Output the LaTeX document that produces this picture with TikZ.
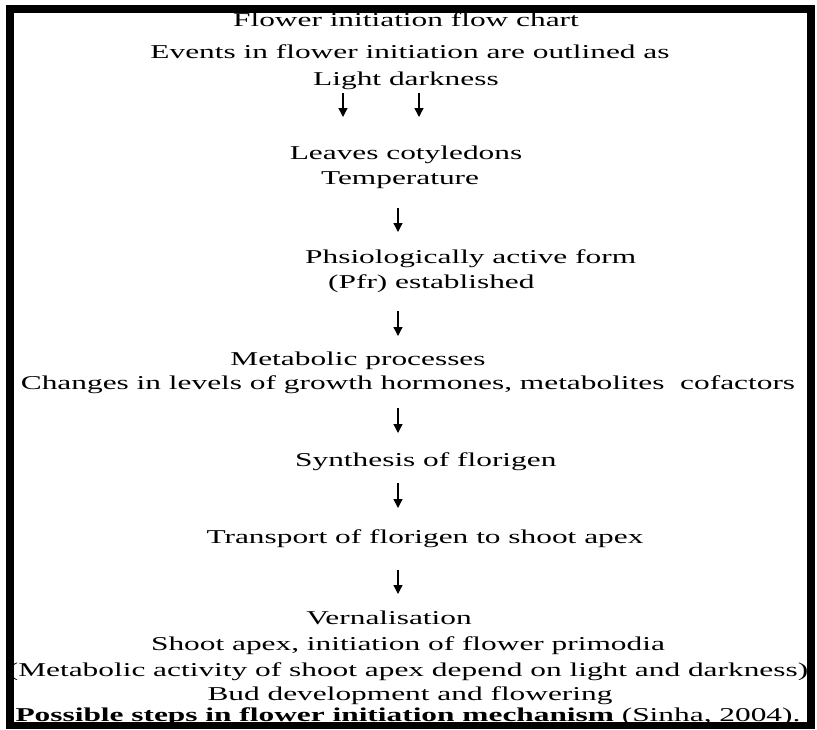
\documentclass[tikz,border=0pt]{standalone}
\usepackage{fontspec}
\setmainfont{Liberation Serif}[FakeStretch=1.6]
\usetikzlibrary{arrows.meta}
\tikzset{>={Triangle[width=9pt,length=9pt]}}

\begin{document}
\begin{tikzpicture}[x=1pt,y=-1pt]
		\useasboundingbox (0,0) rectangle (817,729);
		\draw[line width=7.5pt] (10,9) rectangle (811,725.5);
		\begin{scope}[every node/.append style={font=\fontsize{19.6}{23}\selectfont, anchor=base, inner sep=0pt}]
			\node (title) at (406, 26) {Flower initiation flow chart};
			\node (events) at (410, 58) {Events in flower initiation are outlined as};
			\node (light) at (406, 85) {Light darkness};
			\node (leaves) at (406, 159) {Leaves cotyledons};
			\node (temp) at (400, 184) {Temperature};
			\node[anchor=base west] (phys) at (305, 263) {Phsiologically active form};
			\node[anchor=base west] (pfr) at (328, 288) {(Pfr) established};
			\node (metab) at (358, 365) {Metabolic processes};
			\node (changes) at (408, 389) {Changes in levels of growth hormones, metabolites\ \ cofactors};
			\node[anchor=base west] (synth) at (295, 466) {Synthesis of florigen};
			\node (transp) at (425, 543) {Transport of florigen to shoot apex};
			\node (vern) at (389, 624) {Vernalisation};
			\node (shoot) at (408, 650) {Shoot apex, initiation of flower primodia};
			\node (activity) at (408, 676) {(Metabolic activity of shoot apex depend on light and darkness)};
			\node (bud) at (410, 700) {Bud development and flowering};
			\node (steps) at (408, 721) {\textbf{Possible steps in flower initiation mechanism} (Sinha, 2004).};
		\end{scope}

		\coordinate (l1) at (343, 93); \coordinate (l2) at (343, 117);
		\coordinate (d1) at (419, 93); \coordinate (d2) at (419, 117);
		\coordinate (t1) at (398, 208); \coordinate (t2) at (398, 232);
		\coordinate (p1) at (398, 311); \coordinate (p2) at (398, 336);
		\coordinate (c1) at (398, 408); \coordinate (c2) at (398, 433);
		\coordinate (s1) at (398, 483); \coordinate (s2) at (398, 508);
		\coordinate (v1) at (398, 570); \coordinate (v2) at (398, 594);

		\draw[->, line width=1.3pt] (l1) -- (l2); \draw[->, line width=1.3pt] (d1) -- (d2);
		\draw[->, line width=1.3pt] (t1) -- (t2); \draw[->, line width=1.3pt] (p1) -- (p2);
		\draw[->, line width=1.3pt] (c1) -- (c2); \draw[->, line width=1.3pt] (s1) -- (s2);
		\draw[->, line width=1.3pt] (v1) -- (v2);
	\end{tikzpicture}
\end{document}
